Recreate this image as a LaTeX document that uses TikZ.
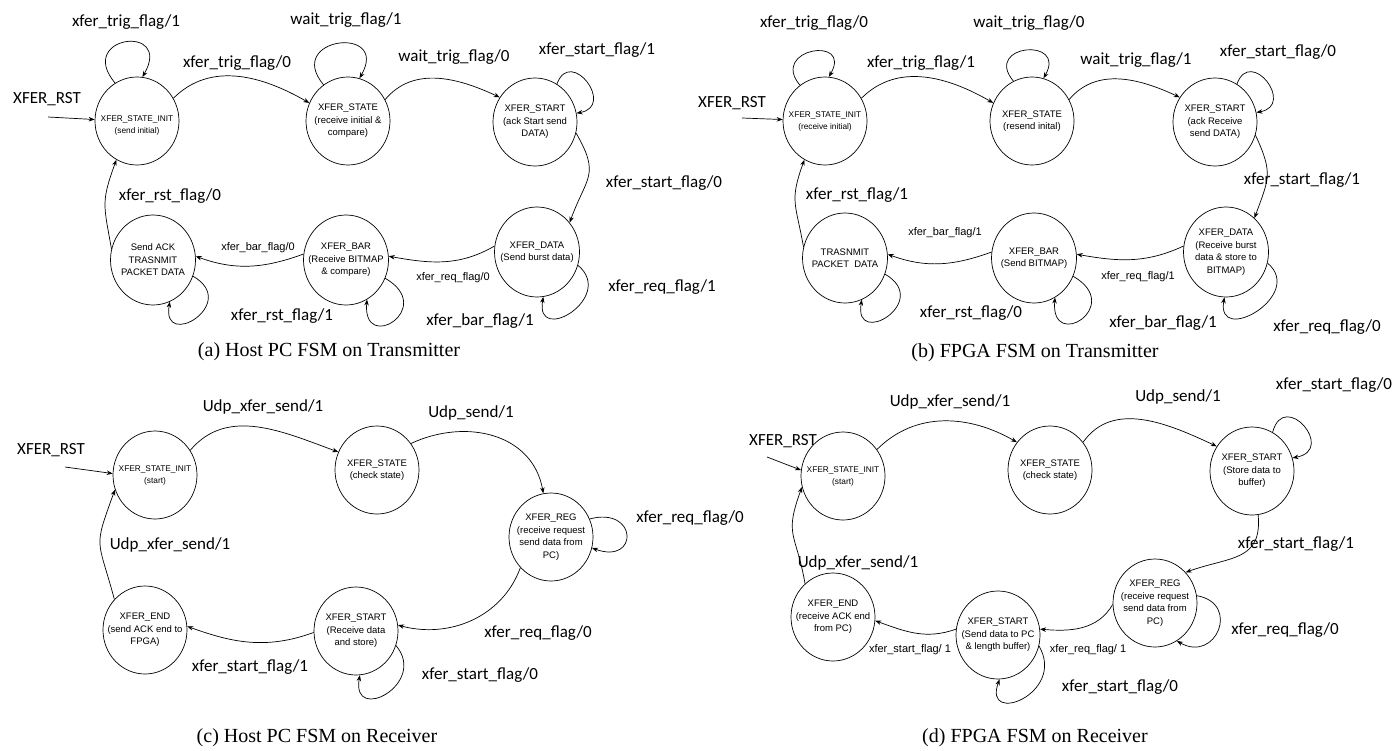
\documentclass[tikz,border=0pt]{standalone}
\usepackage{fontspec}
\setmainfont{Liberation Serif}
\newfontfamily\lblfont{Carlito}
\newfontfamily\stfont{Liberation Sans}
\usetikzlibrary{shapes.geometric,arrows.meta}

\begin{document}
% y axis points down; polar offsets +(a:r) therefore use the negated visual angle
\begin{tikzpicture}[x=1pt,y=-1pt,
  line width=0.7pt,
  >={Stealth[length=6pt,width=4.5pt]},
  st/.style={ellipse,draw,minimum width=84pt,minimum height=88pt,inner sep=0pt},
  stlow/.style={st,minimum width=85pt,minimum height=90pt},
  sttext/.style={font=\stfont\fontsize{9.5}{12.5}\selectfont,align=center,inner sep=0pt},
  initext/.style={font=\stfont\fontsize{8.3}{12}\selectfont,align=center,inner sep=0pt},
  lbl/.style={font=\lblfont\fontsize{17}{20}\selectfont,inner sep=0pt},
  slbl/.style={font=\stfont\fontsize{11}{13}\selectfont,inner sep=0pt},
  captxt/.style={font=\fontsize{20}{24}\selectfont,inner sep=0pt},
  conn/.style={->}
]
\useasboundingbox (0,0) rectangle (1397,750);

% ---------------- (a) Host PC FSM on Transmitter ----------------
\node[st,label={[initext,yshift=-4pt]center:{XFER\_STATE\_INIT\\(send initial)}}] (aI) at (137,121) {};
\node[st,label={[sttext]center:{XFER\_STATE\\(receive initial \&\\compare)}}] (aS) at (348,121) {};
\node[st,label={[sttext]center:{XFER\_START\\(ack Start send\\DATA)}}] (aT) at (535,122) {};
\node[stlow,label={[sttext]center:{XFER\_DATA\\(Send burst data)}}] (aD) at (537,252) {};
\node[stlow,label={[sttext]center:{XFER\_BAR\\(Receive BITMAP\\\& compare)}}] (aB) at (346,260) {};
\node[stlow,label={[sttext]center:{Send ACK\\TRASNMIT\\PACKET DATA}}] (aA) at (153,260) {};

\node[lbl] (aRl) at (47,99) {XFER\_RST};
\coordinate (aR) at (48,117);
\draw[conn] (aR) -- (aI.178);

\draw[conn] (aI.120) .. controls +(-130:62) and +(-60:62) .. (aI.83);
\draw[conn] (aI.32) to[out=45,in=150] (aS.155);
\draw[conn] (aS.124) .. controls +(-130:62) and +(-60:62) .. (aS.75);
\draw[conn] (aS.30) to[out=50,in=155] (aT.145);
\draw[conn] (aT.60) .. controls +(-70:40) and +(-10:40) .. (aT.12);
\draw[conn] (aT.-15) to[out=-60,in=70,looseness=1.4] (aD.42);
\draw[conn] (aD.-18) .. controls +(40:50) and +(100:50) .. (aD.-82);
\draw[conn] (aD.172) to[out=210,in=-10] (aB.5);
\draw[conn] (aB.-25) .. controls +(30:60) and +(95:55) .. (aB.-62);
\draw[conn] (aB.172) to[out=200,in=-20] (aA.5);
\draw[conn] (aA.-22) .. controls +(30:55) and +(100:50) .. (aA.-68);
\draw[conn] (aA.165) to[out=100,in=-110,looseness=1.3] (aI.-118);

\node[lbl] (a1) at (126,22) {xfer\_trig\_flag/1};
\node[lbl] (a2) at (237,63) {xfer\_trig\_flag/0};
\node[lbl] (a3) at (346,20) {wait\_trig\_flag/1};
\node[lbl] (a4) at (454,57) {wait\_trig\_flag/0};
\node[lbl] (a5) at (597,50) {xfer\_start\_flag/1};
\node[lbl] (a6) at (664,183) {xfer\_start\_flag/0};
\node[lbl] (a7) at (662,287) {xfer\_req\_flag/1};
\node[lbl] (a8) at (480,321) {xfer\_bar\_flag/1};
\node[lbl] (a9) at (282,316) {xfer\_rst\_flag/1};
\node[lbl] (a10) at (170,196) {xfer\_rst\_flag/0};
\node[slbl] (a11) at (453,278) {xfer\_req\_flag/0};
\node[slbl] (a12) at (258,248) {xfer\_bar\_flag/0};
\node[captxt] (acap) at (329,352) {(a) Host PC FSM on Transmitter};

% ---------------- (b) FPGA FSM on Transmitter ----------------
\node[st,label={[initext]center:{XFER\_STATE\_INIT\\(receive initial)}}] (bI) at (825,121) {};
\node[st,label={[sttext]center:{XFER\_STATE\\(resend inital)}}] (bS) at (1032,121) {};
\node[st,label={[sttext]center:{XFER\_START\\(ack Receive\\send DATA)}}] (bT) at (1215,122) {};
\node[stlow,label={[sttext]center:{XFER\_DATA\\(Receive burst\\data \& store to\\BITMAP)}}] (bD) at (1226,252) {};
\node[stlow,label={[sttext]center:{XFER\_BAR\\(Send BITMAP)}}] (bB) at (1034,258) {};
\node[stlow,label={[sttext]center:{TRASNMIT\\PACKET~~DATA}}] (bA) at (845,258) {};

\node[lbl] (bRl) at (732,103) {XFER\_RST};
\coordinate (bR) at (742,118);
\draw[conn] (bR) -- (bI.178);

\draw[conn] (bI.125) .. controls +(-130:48) and +(-60:48) .. (bI.85);
\draw[conn] (bI.32) to[out=45,in=150] (bS.155);
\draw[conn] (bS.115) .. controls +(-130:48) and +(-60:48) .. (bS.75);
\draw[conn] (bS.30) to[out=50,in=155] (bT.145);
\draw[conn] (bT.60) .. controls +(-70:40) and +(-10:40) .. (bT.13);
\draw[conn] (bT.-18) to[out=-65,in=70,looseness=1.3] (bD.50);
\draw[conn] (bD.-15) .. controls +(40:50) and +(100:50) .. (bD.-92);
\draw[conn] (bD.172) to[out=205,in=-10] (bB.5);
\draw[conn] (bB.-25) .. controls +(30:60) and +(95:55) .. (bB.-62);
\draw[conn] (bB.172) to[out=200,in=-20] (bA.5);
\draw[conn] (bA.-22) .. controls +(30:55) and +(100:50) .. (bA.-68);
\draw[conn] (bA.165) to[out=100,in=-110,looseness=1.3] (bI.-118);

\node[lbl] (b1) at (814,23) {xfer\_trig\_flag/0};
\node[lbl] (b2) at (921,63) {xfer\_trig\_flag/1};
\node[lbl] (b3) at (1029,23) {wait\_trig\_flag/0};
\node[lbl] (b4) at (1136,60) {wait\_trig\_flag/1};
\node[lbl] (b5) at (1278,52) {xfer\_start\_flag/0};
\node[lbl] (b6) at (1302,180) {xfer\_start\_flag/1};
\node[lbl] (b7) at (1327,327) {xfer\_req\_flag/0};
\node[lbl] (b8) at (1163,323) {xfer\_bar\_flag/1};
\node[lbl] (b9) at (971,313) {xfer\_rst\_flag/0};
\node[lbl] (b10) at (857,195) {xfer\_rst\_flag/1};
\node[slbl] (b11) at (1138,277) {xfer\_req\_flag/1};
\node[slbl] (b12) at (945,233) {xfer\_bar\_flag/1};
\node[captxt] (bcap) at (1035,353) {(b) FPGA FSM on Transmitter};

% ---------------- (c) Host PC FSM on Receiver ----------------
\node[st,label={[initext]center:{XFER\_STATE\_INIT\\(start)}}] (cI) at (155,475) {};
\node[st,label={[sttext]center:{XFER\_STATE\\(check state)}}] (cS) at (377,470) {};
\node[st,label={[sttext]center:{XFER\_REG\\(receive request\\send data from\\PC)}}] (cR) at (551,537) {};
\node[st,label={[sttext]center:{XFER\_START\\(Receive data\\and store)}}] (cT) at (356,631) {};
\node[st,label={[sttext]center:{XFER\_END\\(send ACK end to\\FPGA)}}] (cE) at (145,630) {};

\node[lbl] (cRl) at (51,450) {XFER\_RST};
\coordinate (cR0) at (65,467);
\draw[conn] (cR0) -- (cI.178);

\draw[conn] (cI.35) to[out=50,in=160] (cS.155);
\draw[conn] (cS.38) to[out=25,in=100,looseness=1.1] (cR.100);
\draw[conn] (cR.25) .. controls +(-15:50) and +(20:50) .. (cR.-15);
\draw[conn] (cR.-135) to[out=-110,in=-15] (cT.8);
\draw[conn] (cT.-20) .. controls +(50:50) and +(100:50) .. (cT.-85);
\draw[conn] (cT.182) to[out=200,in=-20] (cE.5);
\draw[conn] (cE.135) to[out=105,in=-110,looseness=1.5] (cI.-160);

\node[lbl] (c1) at (263,407) {Udp\_xfer\_send/1};
\node[lbl] (c2) at (471,413) {Udp\_send/1};
\node[lbl] (c3) at (690,518) {xfer\_req\_flag/0};
\node[lbl] (c4) at (538,633) {xfer\_req\_flag/0};
\node[lbl] (c5) at (480,675) {xfer\_start\_flag/0};
\node[lbl] (c6) at (250,667) {xfer\_start\_flag/1};
\node[lbl] (c7) at (170,545) {Udp\_xfer\_send/1};
\node[captxt] (ccap) at (317,738) {(c) Host PC FSM on Receiver};

% ---------------- (d) FPGA FSM on Receiver ----------------
\node[st,label={[initext]center:{XFER\_STATE\_INIT\\(start)}}] (dI) at (843,476) {};
\node[st,label={[sttext]center:{XFER\_STATE\\(check state)}}] (dS) at (1050,470) {};
\node[st,label={[sttext]center:{XFER\_START\\(Store data to\\buffer)}}] (dT) at (1252,471) {};
\node[st,label={[sttext]center:{XFER\_REG\\(receive request\\send data from\\PC)}}] (dR) at (1155,603) {};
\node[st,label={[sttext]center:{XFER\_START\\(Send data to PC\\\& length buffer)}}] (dX) at (998,635) {};
\node[st,label={[sttext]center:{XFER\_END\\(receive ACK end\\from PC)}}] (dE) at (833,617) {};

\node[lbl] (dRl) at (783,441) {XFER\_RST};
\coordinate (dR0) at (767,457);
\draw[conn] (dR0) -- (dI.172);

\draw[conn] (dI.38) to[out=45,in=150] (dS.140);
\draw[conn] (dS.40) to[out=55,in=155] (dT.145);
\draw[conn] (dT.62) .. controls +(-75:45) and +(-10:45) .. (dT.18);
\draw[conn] (dT.-82) to[out=-85,in=20,looseness=1.3] (dR.45);
\draw[conn] (dR.10) .. controls +(10:45) and +(30:45) .. (dR.-60);
\draw[conn] (dR.182) to[out=240,in=-5] (dX.8);
\draw[conn] (dX.-15) .. controls +(60:55) and +(110:50) .. (dX.-88);
\draw[conn] (dX.172) to[out=200,in=-20] (dE.-5);
\draw[conn] (dE.130) to[out=100,in=-110,looseness=1.4] (dI.-165);

\node[lbl] (d1) at (950,402) {Udp\_xfer\_send/1};
\node[lbl] (d2) at (1178,397) {Udp\_send/1};
\node[lbl] (d3) at (1334,385) {xfer\_start\_flag/0};
\node[lbl] (d4) at (1296,544) {xfer\_start\_flag/1};
\node[lbl] (d5) at (1285,630) {xfer\_req\_flag/0};
\node[lbl] (d6) at (1120,687) {xfer\_start\_flag/0};
\node[lbl] (d7) at (858,563) {Udp\_xfer\_send/1};
\node[slbl] (d8) at (1088,650) {xfer\_req\_flag/ 1};
\node[slbl] (d9) at (910,650) {xfer\_start\_flag/ 1};
\node[captxt] (dcap) at (1035,738) {(d) FPGA FSM on Receiver};

\end{tikzpicture}
\end{document}
